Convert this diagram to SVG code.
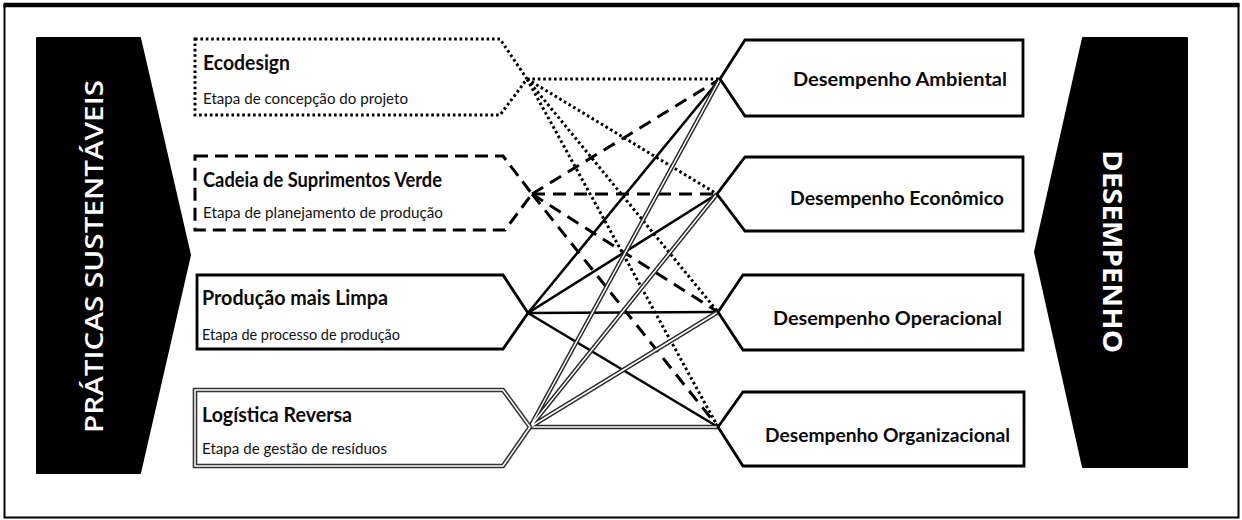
<svg xmlns="http://www.w3.org/2000/svg" width="1242" height="520" viewBox="0 0 1242 520">
<style>
.frame{fill:none;stroke:#000;stroke-width:2}
.blk{fill:#000;stroke:#000;stroke-width:2;stroke-linejoin:round}
.big{fill:#fff;font-family:"Open Sans","DejaVu Sans",sans-serif;font-size:25px;font-weight:600}
.bigb{fill:#fff;font-family:"Open Sans","DejaVu Sans",sans-serif;font-size:26px;font-weight:bold}
.box{fill:#fff;stroke:#000;stroke-width:2.8;stroke-linejoin:miter}
.boxdot{fill:#fff;stroke:#000;stroke-width:3;stroke-dasharray:2.6 2.8}
.boxdash{fill:#fff;stroke:#000;stroke-width:3;stroke-dasharray:13 7}
.boxdbl-o{fill:#fff;stroke:#333;stroke-width:4.6}
.boxdbl-i{fill:none;stroke:#fff;stroke-width:1.5}
.h{font-family:Lato,"Open Sans",sans-serif;font-weight:bold;font-size:20px;fill:#0a0a0a}
.s{font-family:Lato,"Open Sans",sans-serif;font-size:14.5px;fill:#111}
.r{font-family:Lato,"Open Sans",sans-serif;font-weight:bold;font-size:18px;fill:#0a0a0a}
.c{fill:none;stroke:#000}
.dot{stroke-width:3;stroke-dasharray:2.6 2.8}
.dash{stroke-width:3;stroke-dasharray:13 8}
.sol{stroke-width:2.6}
.dblo{stroke:#2a2a2a;stroke-width:4.4}
.dbli{stroke:#fff;stroke-width:1.5}
</style>
<rect x="0" y="0" width="1242" height="520" fill="#fff"/>
<rect class="frame" x="4.5" y="5" width="1234" height="512.5"/>
<line x1="3.5" y1="5" x2="1239.5" y2="5" stroke="#000" stroke-width="4.5"/>

<g id="praticas">
<path class="blk" d="M37,38 H140 L190,255 L140,473 H37 Z"/>
<text class="big" transform="translate(103,256.5) rotate(-90)" text-anchor="middle" textLength="353" lengthAdjust="spacingAndGlyphs">PRÁTICAS SUSTENTÁVEIS</text>
</g>
<g id="desempenho">
<path class="blk" d="M1083,38 H1187 V467 H1083 L1035,252 Z"/>
<text class="bigb" transform="translate(1103,251.5) rotate(90)" text-anchor="middle" textLength="203" lengthAdjust="spacingAndGlyphs">DESEMPENHO</text>
</g>

<g id="connectors">
<g id="c-ecodesign">
<line class="c dot" x1="527" y1="79" x2="720" y2="79"/>
<line class="c dot" x1="527" y1="79" x2="717" y2="194"/>
<line class="c dot" x1="527" y1="79" x2="718" y2="312"/>
<line class="c dot" x1="527" y1="79" x2="718" y2="427"/>
</g>
<g id="c-cadeia">
<line class="c dash" x1="532" y1="194" x2="720" y2="79"/>
<line class="c dash" x1="532" y1="194" x2="717" y2="194"/>
<line class="c dash" x1="532" y1="194" x2="718" y2="312"/>
<line class="c dash" x1="532" y1="194" x2="718" y2="427"/>
</g>
<g id="c-producao">
<line class="c sol" x1="528" y1="313" x2="720" y2="79"/>
<line class="c sol" x1="528" y1="313" x2="717" y2="194"/>
<line class="c sol" x1="528" y1="313" x2="718" y2="312"/>
<line class="c sol" x1="528" y1="313" x2="718" y2="427"/>
</g>
<g id="c-logistica">
<path class="c dblo" d="M530,427 L720,79 M530,427 L717,194 M530,427 L718,312 M530,427 L718,427"/>
<path class="c dbli" d="M530,427 L720,79 M530,427 L717,194 M530,427 L718,312 M530,427 L718,427"/>
</g>
</g>

<g id="ecodesign">
<path class="boxdot" d="M195,39 H500 L527,79 L500,115 H195 Z"/>
<text class="h" x="203" y="70" textLength="87" lengthAdjust="spacingAndGlyphs">Ecodesign</text>
<text class="s" x="203" y="104" textLength="205" lengthAdjust="spacingAndGlyphs">Etapa de concepção do projeto</text>
</g>
<g id="cadeia">
<path class="boxdash" d="M195,156 H503 L532,194 L505,230 H195 Z"/>
<text class="h" x="203" y="187" textLength="239" lengthAdjust="spacingAndGlyphs">Cadeia de Suprimentos Verde</text>
<text class="s" x="203" y="218" textLength="240" lengthAdjust="spacingAndGlyphs">Etapa de planejamento de produção</text>
</g>
<g id="producao">
<path class="box" d="M197,275 H503 L528,313 L503,349 H197 Z"/>
<text class="h" x="202" y="305" textLength="186" lengthAdjust="spacingAndGlyphs">Produção mais Limpa</text>
<text class="s" x="202" y="340" textLength="198" lengthAdjust="spacingAndGlyphs">Etapa de processo de produção</text>
</g>
<g id="logistica">
<path class="boxdbl-o" d="M195,390 H503 L530,427 L503,466 H195 Z"/>
<path class="boxdbl-i" d="M195,390 H503 L530,427 L503,466 H195 Z"/>
<text class="h" x="202" y="422" textLength="150" lengthAdjust="spacingAndGlyphs">Logística Reversa</text>
<text class="s" x="202" y="454" textLength="185" lengthAdjust="spacingAndGlyphs">Etapa de gestão de resíduos</text>
</g>

<g id="amb">
<path class="box" d="M745,40 H1023 V116 H745 L720,79 Z"/>
<text class="r" x="793" y="86" textLength="214" lengthAdjust="spacingAndGlyphs">Desempenho Ambiental</text>
</g>
<g id="eco">
<path class="box" d="M745,157 H1023 V231 H745 L717,194 Z"/>
<text class="r" x="790" y="205" textLength="214" lengthAdjust="spacingAndGlyphs">Desempenho Econômico</text>
</g>
<g id="ope">
<path class="box" d="M743,275 H1023 V350 H743 L718,312 Z"/>
<text class="r" x="773" y="325" textLength="229" lengthAdjust="spacingAndGlyphs">Desempenho Operacional</text>
</g>
<g id="org">
<path class="box" d="M743,392 H1024 V466 H743 L718,427 Z"/>
<text class="r" x="765" y="442" textLength="245" lengthAdjust="spacingAndGlyphs">Desempenho Organizacional</text>
</g>
</svg>
